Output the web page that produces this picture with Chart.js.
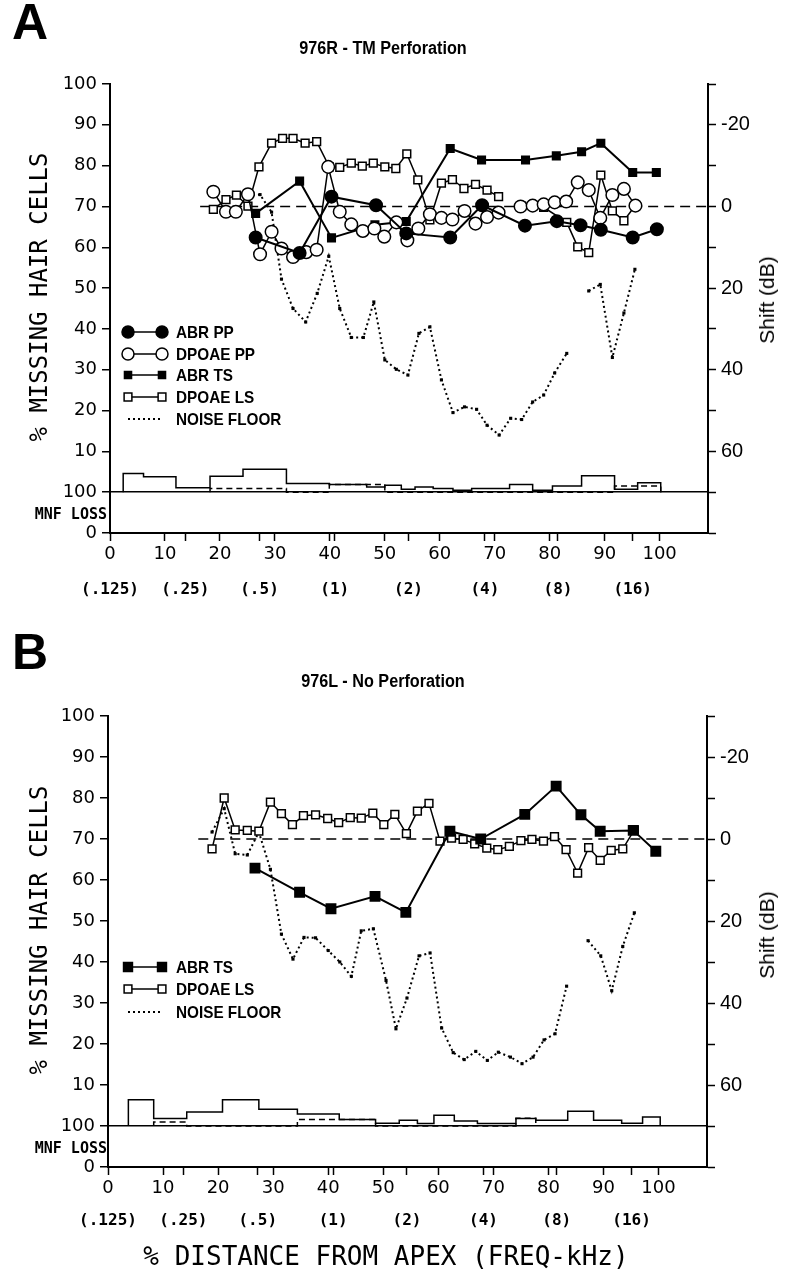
<!DOCTYPE html>
<html>
<head>
<meta charset="utf-8">
<script src="https://cdn.jsdelivr.net/npm/chart.js@4.4.1/dist/chart.umd.min.js"></script>
<style>
    body { margin: 0; background: #fff; width: 800px; height: 1279px; position: relative; overflow: hidden; }
    .panel { position: absolute; left: 0; width: 800px; height: 620px; }
    .lbl { position: absolute; white-space: nowrap; line-height: 1; color: #000; }
    .letter { font: bold 50px "Liberation Sans", sans-serif; }
    .title { font: bold 18px "Liberation Sans Narrow", "Liberation Sans", sans-serif; transform: translateX(-50%) scaleX(0.9); }
    .ytitle { font: 24px "DejaVu Sans Mono", monospace; transform: translate(-50%, -50%) rotate(-90deg); }
    .shift { font: 21px "Liberation Sans", sans-serif; transform: translate(-50%, -50%) rotate(-90deg); }
    .mnf { font: bold 15px "DejaVu Sans Mono", monospace; }
    .xtitle { font: 26px "DejaVu Sans Mono", monospace; transform: translate(-50%, -50%); }
</style>
</head>
<body>

<div class="panel" style="top:0"><canvas id="chartA"></canvas></div>
<div class="panel" style="top:632px"><canvas id="chartB"></canvas></div>

<div class="lbl letter" style="left:12px; top:-7px">A</div>
<div class="lbl title" style="left:383px; top:38px">976R - TM Perforation</div>
<div class="lbl ytitle" style="left:39px; top:297px">% MISSING HAIR CELLS</div>
<div class="lbl shift" style="left:767px; top:300px">Shift (dB)</div>
<div class="lbl mnf" style="right:693px; top:505px">MNF LOSS</div>

<div class="lbl letter" style="left:12px; top:623px">B</div>
<div class="lbl title" style="left:383px; top:671px">976L - No Perforation</div>
<div class="lbl ytitle" style="left:39px; top:930px">% MISSING HAIR CELLS</div>
<div class="lbl shift" style="left:767px; top:935px">Shift (dB)</div>
<div class="lbl mnf" style="right:693px; top:1139px">MNF LOSS</div>

<div class="lbl xtitle" style="left:386px; top:1256px">% DISTANCE FROM APEX (FREQ-kHz)</div>

<script>
// x = % distance from apex, values = threshold shift in dB (right axis)
// null marks a break in the line

// ---- Panel A: 976R - TM Perforation ----
const aAbrPpX = [26.5, 34.5, 40.3, 48.4, 53.9, 61.9, 67.7, 75.5, 81.3, 85.6, 89.3, 95.1, 99.5];
const aAbrPpDb = [7.6, 11.4, -2.4, -0.3, 6.6, 7.6, -0.3, 4.7, 3.6, 4.6, 5.7, 7.6, 5.6];

const aDpPpX = [18.8, 21.1, 22.9, 25.1, 27.3, 29.4, 31.2, 33.3, 35.7, 37.6, 39.7, 41.8, 43.9, 46.0, 48.1, 49.9, 52.1, 54.1, 56.1,
    58.2, 60.3, 62.3, 64.5, 66.5, 68.6, 70.7, 72.7, 74.7, 76.9, 78.9, 80.9, 83.0, 85.1, 87.1, 89.2, 91.4, 93.5, 95.6];
const aDpPpDb = [-3.6, 1.3, 1.3, -3.0, 11.7, 6.2, 10.3, 12.4, 11.2, 10.6, -9.7, 1.3, 4.4, 6.0, 5.4, 7.4, 3.9, 8.3, 5.4,
    1.9, 2.8, 3.2, 1.1, 4.2, 2.6, 1.5, null, 0, -0.2, -0.5, -1.0, -1.2, -5.9, -4.0, 2.8, -2.8, -4.3, -0.2];

const aAbrTsX = [26.5, 34.5, 40.3, 48.2, 53.9, 61.9, 67.6, 75.6, 81.2, 85.8, 89.3, 95.1, 99.4];
const aAbrTsDb = [1.7, -6.2, 7.7, 4.5, 3.7, -14.2, -11.4, -11.4, -12.4, -13.4, -15.5, -8.3, -8.3];

const aDpLsX = [18.8, 21.1, 23.0, 25.1, 27.1, 29.4, 31.4, 33.3, 35.5, 37.6, 39.9, 41.8, 43.9, 45.9, 47.9, 50.0, 52.0, 54.0, 56.0,
    58.2, 60.3, 62.3, 64.4, 66.5, 68.6, 70.7, 72.8, 74.9, 76.9, 78.9, 83.1, 85.1, 87.1, 89.3, 91.4, 93.5, 95.6];
const aDpLsDb = [0.7, -1.7, -2.8, -0.1, -9.7, -15.5, -16.7, -16.7, -15.5, -15.9, -9.7, -9.6, -10.6, -9.9, -10.6, -9.7, -9.3, -12.9, -6.5,
    3.3, -5.7, -6.6, -4.4, -5.4, -4.0, -2.4, null, -0.1, -0.3, 0.2, 3.9, 9.9, 11.3, -7.7, 1.1, 3.5, -0.3];

const aNoiseX = [25.1, 27.3, 29.4, 31.2, 33.3, 35.6, 37.7, 39.8, 41.8, 43.9, 46.1, 48.0, 50.0, 52.1, 54.2, 56.2, 58.2, 60.3,
    62.4, 64.5, 66.7, 68.6, 70.8, 72.9, 74.9, 76.9, 78.9, 80.9, 83.1, 85.1, 87.1, 89.2, 91.4, 93.5, 95.5];
const aNoiseDb = [-2.8, -2.9, 1.4, 17.8, 25.0, 28.3, 21.3, 12.2, 25.0, 32.1, 32.1, 23.4, 37.6, 39.9, 41.3, 31.1, 29.5, 42.5,
    50.5, 49.1, 49.7, 53.6, 56.0, 51.9, 52.2, 47.9, 46.2, 40.8, 36.0, null, 20.7, 19.1, 37.0, 26.1, 15.4];

// MNF loss strip: bin edges (% distance) and heights above the "100" line
const aMnfEdges = [2.4, 6.1, 12.0, 18.2, 24.2, 32.1, 39.9, 46.7, 50.0, 53.0, 55.5, 58.8, 62.4, 65.8, 72.7, 76.9, 80.5, 85.8, 91.8, 96.0, 100.2];
const aMnfLoss = [4.6, 3.8, 1.1, 3.9, 5.6, 2.1, 1.9, 1.3, 1.7, 0.7, 1.3, 0.9, 0.5, 0.9, 1.9, 0.5, 1.5, 4.0, 0.7, 2.3];
const aMnfDashEdges = [18.2, 32.1, 39.9, 50.0, 91.8, 100.2];
const aMnfDash = [0.9, 0, 1.9, 0, 1.5];

// ---- Panel B: 976L - No Perforation ----
const bAbrTsX = [26.7, 34.8, 40.5, 48.5, 54.1, 62.1, 67.7, 75.7, 81.4, 85.9, 89.4, 95.4, 99.5];
const bAbrTsDb = [7.1, 13.0, 17.0, 14.0, 17.9, -1.9, 0.0, -6.0, -12.9, -5.9, -1.9, -2.1, 3.0];

const bDpLsX = [18.9, 21.1, 23.1, 25.3, 27.4, 29.5, 31.5, 33.5, 35.5, 37.7, 39.9, 41.9, 44.0, 46.0, 48.1, 50.1, 52.1, 54.2, 56.2,
    58.3, 60.3, 62.4, 64.5, 66.6, 68.8, 70.8, 72.9, 75.0, 77.0, 79.1, 81.1, 83.2, 85.3, 87.3, 89.4, 91.4, 93.5, 95.6];
const bDpLsDb = [2.4, -10.0, -2.2, -2.1, -1.9, -9.0, -6.2, -3.5, -5.7, -5.9, -5.0, -4.0, -5.2, -5.1, -6.3, -3.5, -6.0, -1.3, -6.8,
    -8.7, 0.5, -0.2, 0.1, 1.2, 2.2, 2.6, 1.8, 0.4, 0.1, 0.5, -0.6, 2.6, 8.3, 2.1, 5.2, 2.8, 2.4, -2.2];

const bNoiseX = [18.9, 21.1, 23.1, 25.3, 27.4, 29.5, 31.5, 33.6, 35.6, 37.7, 40.0, 42.1, 44.2, 46.0, 48.2, 50.5, 52.3, 54.3, 56.5,
    58.5, 60.6, 62.7, 64.7, 66.8, 68.9, 70.9, 73.1, 75.2, 77.2, 79.2, 81.2, 83.3, 85.2, 87.2, 89.5, 91.5, 93.5, 95.6];
const bNoiseDb = [-1.7, -7.4, 3.6, 3.9, -1.7, 7.4, 23.2, 29.3, 24.0, 24.1, 27.2, 30.0, 33.5, 22.4, 21.9, 34.5, 46.3, 38.8, 28.5,
    27.8, 46.1, 52.1, 53.8, 51.8, 54.0, 52.0, 53.2, 54.8, 53.2, 49.0, 47.5, 35.9, null, 24.8, 28.5, 37.0, 26.2, 18.0];

const bMnfEdges = [3.7, 8.3, 14.3, 20.8, 27.4, 34.4, 42.0, 48.6, 52.9, 56.2, 59.2, 62.9, 67.1, 74.1, 77.7, 83.5, 88.2, 93.3, 97.1, 100.3];
const bMnfLoss = [6.4, 1.8, 3.4, 6.4, 4.1, 2.9, 1.6, 0.7, 1.4, 0.6, 2.6, 1.2, 0.6, 1.8, 1.4, 3.6, 1.4, 0.7, 2.2];
const bMnfDashEdges = [8.3, 14.3, 34.4, 48.6, 74.1, 77.7];
const bMnfDash = [1.0, 0, 1.6, 0, 1.9];

// ---- axes ----
const xTicks = [0, 10, 13.7, 20, 27.2, 30, 40, 40.9, 50, 54.3, 60, 68.2, 70, 80, 81.5, 90, 95.1, 100];
const freqPos = [0, 13.7, 27.2, 40.9, 54.3, 68.2, 81.5, 95.1];
const freqLabels = ['(.125)', '(.25)', '(.5)', '(1)', '(2)', '(4)', '(8)', '(16)'];
const leftTicks = [0, 10, 20, 30, 40, 50, 60, 70, 80, 90, 100, 110];
const shiftLabels = [-20, 0, 20, 40, 60];
const zeroLineX = [16.4, 108.8];
const X_MAX = 108.8;
const BASE = 10; // the "100" line of the MNF strip on the left scale

Chart.defaults.color = '#000';
Chart.defaults.font.family = 'DejaVu Sans';

const pts = (xs, ys) => xs.map((x, i) => ({ x: x, y: ys[i] }));
const steps = (edges, vals) => {
    const out = [{ x: edges[0], y: BASE }];
    vals.forEach((v, i) => out.push({ x: edges[i], y: BASE + v }));
    out.push({ x: edges[edges.length - 1], y: BASE });
    return out;
};

// draws the little key inside the plot
const keyPlugin = {
    id: 'key',
    afterDraw(chart, args, opts) {
        const ctx = chart.ctx;
        opts.items.forEach(it => {
            ctx.save();
            ctx.strokeStyle = '#000';
            ctx.lineWidth = it.dash ? 2 : 1.5;
            ctx.setLineDash(it.dash || []);
            ctx.beginPath();
            ctx.moveTo(opts.x0, it.y);
            ctx.lineTo(opts.x1, it.y);
            ctx.stroke();
            ctx.setLineDash([]);
            if (it.style) {
                ctx.fillStyle = it.fill;
                [opts.x0, opts.x1].forEach(px => {
                    Chart.helpers.drawPoint(ctx, { pointStyle: it.style, radius: it.r, borderWidth: 1.5, rotation: 0 }, px, it.y);
                });
            }
            // condensed bold text, like the original lettering
            ctx.fillStyle = '#000';
            ctx.font = 'bold 17px "Liberation Sans Narrow", "Liberation Sans", sans-serif';
            ctx.textBaseline = 'middle';
            ctx.translate(opts.tx, it.y + 1);
            ctx.scale(0.9, 1);
            ctx.fillText(it.text, 0, 0);
            ctx.restore();
        });
    }
};

function buildPanel(id, p) {
    const datasets = [];
    if (p.abrPp) {
        datasets.push({ label: 'ABR PP', data: p.abrPp, yAxisID: 'y2', borderColor: '#000', borderWidth: 2,
            pointStyle: 'circle', pointRadius: 6, pointBackgroundColor: '#000', pointBorderColor: '#000' });
        datasets.push({ label: 'DPOAE PP', data: p.dpPp, yAxisID: 'y2', borderColor: '#000', borderWidth: 1.5,
            pointStyle: 'circle', pointRadius: 6.3, pointBackgroundColor: '#fff', pointBorderColor: '#000', pointBorderWidth: 1.5 });
    }
    datasets.push({ label: 'ABR TS', data: p.abrTs, yAxisID: 'y2', borderColor: '#000', borderWidth: 2,
        pointStyle: 'rect', pointRadius: p.tsR, pointBackgroundColor: '#000', pointBorderColor: '#000' });
    datasets.push({ label: 'DPOAE LS', data: p.dpLs, yAxisID: 'y2', borderColor: '#000', borderWidth: 1.5,
        pointStyle: 'rect', pointRadius: 5.5, pointBackgroundColor: '#fff', pointBorderColor: '#000', pointBorderWidth: 1.5 });
    datasets.push({ label: 'NOISE FLOOR', data: p.noise, yAxisID: 'y2', borderColor: '#000', borderWidth: 2, borderDash: [2, 3],
        pointStyle: 'rect', pointRadius: 2.2, pointBackgroundColor: '#000', pointBorderWidth: 0 });
    datasets.push({ label: 'zero', data: pts(zeroLineX, [0, 0]), yAxisID: 'y2', borderColor: '#000', borderWidth: 1.5,
        borderDash: [10, 6], pointRadius: 0 });
    datasets.push({ label: 'MNF', data: p.mnf, yAxisID: 'y', borderColor: '#000', borderWidth: 1.5, stepped: true, pointRadius: 0 });
    datasets.push({ label: 'MNF 2', data: p.mnfDash, yAxisID: 'y', borderColor: '#000', borderWidth: 1.5, borderDash: [6, 4],
        stepped: true, pointRadius: 0 });

    const axisLine = { display: true, color: '#000', width: 2 };
    new Chart(document.getElementById(id), {
        type: 'line',
        data: { datasets: datasets },
        plugins: [keyPlugin],
        options: {
            animation: false,
            responsive: true,
            maintainAspectRatio: false,
            events: [],
            layout: { padding: { top: 84, left: 0, right: 0, bottom: 0 } },
            plugins: {
                legend: { display: false },
                tooltip: { enabled: false },
                key: p.key
            },
            scales: {
                x: {
                    type: 'linear', min: 0, max: X_MAX, position: 'bottom', weight: 0,
                    afterBuildTicks: s => { s.ticks = xTicks.map(v => ({ value: v })); },
                    afterFit: s => { s.height = 35; },
                    border: axisLine,
                    grid: { drawOnChartArea: false, tickLength: 8, tickColor: '#000', tickWidth: 1.5 },
                    ticks: { autoSkip: false, maxRotation: 0, padding: 3, font: { size: 18 },
                        callback: v => (v % 10 === 0 ? String(v) : '') }
                },
                x2: {
                    type: 'linear', min: 0, max: X_MAX, position: 'bottom', weight: 1,
                    afterBuildTicks: s => { s.ticks = freqPos.map(v => ({ value: v })); },
                    afterFit: s => { s.height = p.freqH; },
                    border: { display: false },
                    grid: { display: false },
                    ticks: { autoSkip: false, maxRotation: 0, padding: p.freqPad,
                        font: { family: 'DejaVu Sans Mono', size: 16, weight: 'bold' },
                        callback: (v, i) => freqLabels[i] }
                },
                y: {
                    type: 'linear', min: 0, max: 110, position: 'left',
                    afterBuildTicks: s => { s.ticks = leftTicks.map(v => ({ value: v })); },
                    afterFit: s => { s.width = p.left; },
                    border: axisLine,
                    grid: { color: c => (c.tick && c.tick.value === BASE ? '#000' : 'rgba(0,0,0,0)'),
                        lineWidth: 1.5, tickColor: '#000', tickLength: 8, tickWidth: 1.5 },
                    ticks: { padding: 5, font: { size: 18 },
                        callback: v => (v === 0 ? '0' : String(v === BASE ? 100 : v - BASE)) }
                },
                y2: {
                    type: 'linear', min: -30, max: 80, reverse: true, position: 'right',
                    afterFit: s => { s.width = 800 - p.right; },
                    border: axisLine,
                    grid: { drawOnChartArea: false, tickLength: 8, tickColor: '#000', tickWidth: 1.5 },
                    ticks: { stepSize: 10, autoSkip: false, padding: 5,
                        font: { family: '"Liberation Sans Narrow", "Liberation Sans"', size: 20 },
                        callback: v => (shiftLabels.includes(v) ? String(v) : '') }
                }
            }
        }
    });
}

buildPanel('chartA', {
    left: 110, right: 708, freqH: 52, freqPad: 4,
    abrPp: pts(aAbrPpX, aAbrPpDb),
    dpPp: pts(aDpPpX, aDpPpDb),
    abrTs: pts(aAbrTsX, aAbrTsDb), tsR: 5,
    dpLs: pts(aDpLsX, aDpLsDb),
    noise: pts(aNoiseX, aNoiseDb),
    mnf: steps(aMnfEdges, aMnfLoss),
    mnfDash: steps(aMnfDashEdges, aMnfDash),
    key: { x0: 128, x1: 162, tx: 176, items: [
        { text: 'ABR PP', y: 332, style: 'circle', r: 6, fill: '#000' },
        { text: 'DPOAE PP', y: 354, style: 'circle', r: 6, fill: '#fff' },
        { text: 'ABR TS', y: 375, style: 'rect', r: 5, fill: '#000' },
        { text: 'DPOAE LS', y: 397, style: 'rect', r: 5.5, fill: '#fff' },
        { text: 'NOISE FLOOR', y: 419, dash: [2, 3] }
    ] }
});

buildPanel('chartB', {
    left: 108, right: 707, freqH: 50, freqPad: 1,
    abrTs: pts(bAbrTsX, bAbrTsDb), tsR: 6.3,
    dpLs: pts(bDpLsX, bDpLsDb),
    noise: pts(bNoiseX, bNoiseDb),
    mnf: steps(bMnfEdges, bMnfLoss),
    mnfDash: steps(bMnfDashEdges, bMnfDash),
    key: { x0: 128, x1: 162, tx: 176, items: [
        { text: 'ABR TS', y: 335, style: 'rect', r: 6.3, fill: '#000' },
        { text: 'DPOAE LS', y: 357, style: 'rect', r: 5.5, fill: '#fff' },
        { text: 'NOISE FLOOR', y: 380, dash: [2, 3] }
    ] }
});
</script>
</body>
</html>
